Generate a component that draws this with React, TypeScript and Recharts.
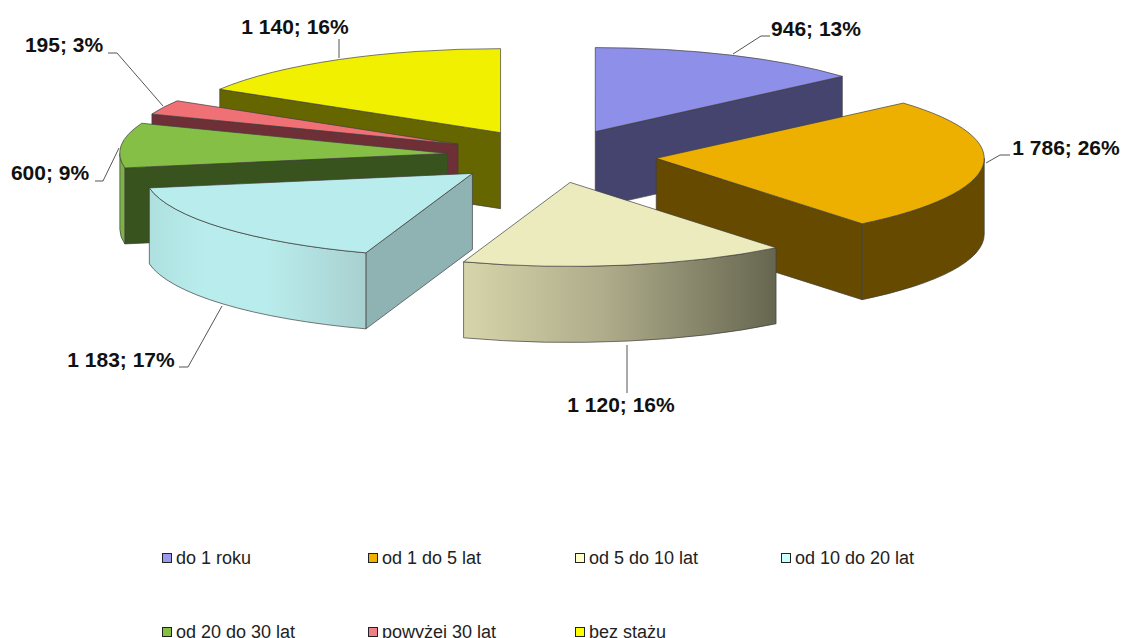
import { PieChart, Pie, Legend } from "recharts";

const categories = ["do 1 roku", "od 1 do 5 lat", "od 5 do 10 lat", "od 10 do 20 lat", "od 20 do 30 lat", "powyżej 30 lat", "bez stażu"];
const counts = [946, 1786, 1120, 1183, 600, 195, 1140];
const shares = [13, 26, 16, 17, 9, 3, 16];

const topColors = ["#8e8fe9", "#eeb000", "#ecebbd", "#b9ecec", "#85bf45", "#ef7075", "#f0f000"];
const wallColors = ["#44446f", "#664a00", "#666650", "#8fb3b3", "#39531f", "#6e3036", "#666600"];
const legendColors = ["#9999ee", "#f0b000", "#ffffcc", "#ccffff", "#85c040", "#f08085", "#ffff00"];

const rows = categories.map((name, i) => ({ name, value: counts[i], share: shares[i], index: i }));
const reversedRows = [...rows].reverse();

// the pie is flattened and extruded by hand, recharts only gives the angles
const CX = 552;
const CY = 156;
const RX = 328;
const RY = 84;
const DEPTH = 76;
const EXPLODE = 0.319;
const EDGE = "#3f3f3f";

const labelSpots = [
  { x: 816, y: 36, line: "733,54 761,36 770,36" },
  { x: 1066, y: 155, line: "986,163 1000,155 1010,155" },
  { x: 621, y: 412, line: "627,345 627,393" },
  { x: 121, y: 367, line: "222,306 188,367 179,367" },
  { x: 50, y: 180, line: "119,148 103,181 95,181" },
  { x: 64, y: 52, line: "163,106 117,53 108,53" },
  { x: 295, y: 34, line: "339,58 339,39" },
];

const legendSpots = [
  { x: 162, y: 558 },
  { x: 368, y: 558 },
  { x: 575, y: 558 },
  { x: 781, y: 558 },
  { x: 162, y: 632 },
  { x: 368, y: 632 },
  { x: 575, y: 632 },
];

const rad = (d: number) => (d * Math.PI) / 180;

function Slice3D(props: any) {
  const { startAngle, endAngle, name } = props;
  const i = categories.indexOf(name);
  const a = 90 - startAngle;
  const b = 90 - endAngle;
  let lo = Math.min(a, b);
  let hi = Math.max(a, b);
  if (lo < 0) {
    lo += 360;
    hi += 360;
  }
  const mid = (lo + hi) / 2;
  const ax = CX + EXPLODE * RX * Math.sin(rad(mid));
  const ay = CY - EXPLODE * RY * Math.cos(rad(mid));
  const px = (t: number) => ax + RX * Math.sin(rad(t));
  const py = (t: number) => ay - RY * Math.cos(rad(t));
  const large = hi - lo > 180 ? 1 : 0;

  const top = `M${ax},${ay} L${px(lo)},${py(lo)} A${RX},${RY} 0 ${large} 1 ${px(hi)},${py(hi)} Z`;
  const flat = (t: number) =>
    `M${ax},${ay} L${px(t)},${py(t)} L${px(t)},${py(t) + DEPTH} L${ax},${ay + DEPTH} Z`;

  const f0 = Math.max(lo, 90);
  const f1 = Math.min(hi, 270);
  const rim =
    f0 < f1
      ? `M${px(f0)},${py(f0)} A${RX},${RY} 0 0 1 ${px(f1)},${py(f1)} L${px(f1)},${py(f1) + DEPTH} A${RX},${RY} 0 0 0 ${px(f0)},${py(f0) + DEPTH} Z`
      : null;

  let rimFill = wallColors[i];
  if (i === 2) rimFill = "url(#rim5to10)";
  if (i === 3) rimFill = "url(#rim10to20)";
  if (i === 4) rimFill = "#7cb244";

  return (
    <g>
      <defs>
        <linearGradient id="rim5to10" x1="0" y1="0" x2="1" y2="0">
          <stop offset="0" stopColor="#d6d5aa" />
          <stop offset="0.45" stopColor="#aeac8a" />
          <stop offset="1" stopColor="#666650" />
        </linearGradient>
        <linearGradient id="rim10to20" x1="0" y1="0" x2="1" y2="0">
          <stop offset="0" stopColor="#aee0e0" />
          <stop offset="0.25" stopColor="#b9ecec" />
          <stop offset="0.55" stopColor="#b9ecec" />
          <stop offset="1" stopColor="#a8d0d0" />
        </linearGradient>
      </defs>
      {Math.sin(rad(hi)) > 0.01 && <path d={flat(hi)} fill={wallColors[i]} stroke={EDGE} strokeWidth={0.7} />}
      {Math.sin(rad(lo)) < -0.01 && <path d={flat(lo)} fill={wallColors[i]} stroke={EDGE} strokeWidth={0.7} />}
      {rim && <path d={rim} fill={rimFill} stroke={EDGE} strokeWidth={0.7} />}
      <path d={top} fill={topColors[i]} stroke={EDGE} strokeWidth={0.7} />
    </g>
  );
}

// back slices first, so the left half is laid out counter-clockwise
const RightShape = (props: any) => (categories.indexOf(props.name) <= 2 ? <Slice3D {...props} /> : <g />);
const LeftShape = (props: any) => (categories.indexOf(props.name) > 2 ? <Slice3D {...props} /> : <g />);

function SliceLabel(props: any) {
  const i = props.index;
  const spot = labelSpots[i];
  const text = `${String(counts[i]).replace(/\B(?=(\d{3})+$)/g, " ")}; ${shares[i]}%`;
  return (
    <g>
      <polyline points={spot.line} fill="none" stroke="#555" strokeWidth={1} />
      <text x={spot.x} y={spot.y} textAnchor="middle" fontFamily="Liberation Sans" fontWeight="bold" fontSize={21} fill="#111">
        {text}
      </text>
    </g>
  );
}

function ChartLegend() {
  return (
    <div>
      {categories.map((name, i) => (
        <div key={name} style={{ position: "absolute", left: legendSpots[i].x, top: legendSpots[i].y - 12, height: 24, lineHeight: "24px", whiteSpace: "nowrap", fontFamily: "Liberation Sans", fontSize: 18, color: "#222" }}>
          <span style={{ position: "absolute", left: 0, top: 7, width: 8, height: 8, border: "1.5px solid #222", background: legendColors[i] }} />
          <span style={{ position: "absolute", left: 14 }}>{name}</span>
        </div>
      ))}
    </div>
  );
}

export default function App() {
  return (
    <div style={{ position: "absolute", left: 0, top: 0, width: 1123, height: 638, background: "#fff", overflow: "hidden" }}>
      <PieChart width={1123} height={638} margin={{ top: 0, right: 0, bottom: 0, left: 0 }}>
        <Pie
          data={reversedRows}
          dataKey="value"
          cx={CX}
          cy={CY}
          outerRadius={RX}
          startAngle={90}
          endAngle={450}
          shape={LeftShape}
          legendType="none"
          isAnimationActive={false}
        />
        <Pie
          data={rows}
          dataKey="value"
          cx={CX}
          cy={CY}
          outerRadius={RX}
          startAngle={90}
          endAngle={-270}
          shape={RightShape}
          label={SliceLabel}
          labelLine={false}
          legendType="none"
          isAnimationActive={false}
        />
        <Legend content={ChartLegend} wrapperStyle={{ position: "absolute", left: 0, top: 0, width: 1123, height: 638 }} />
      </PieChart>
    </div>
  );
}
